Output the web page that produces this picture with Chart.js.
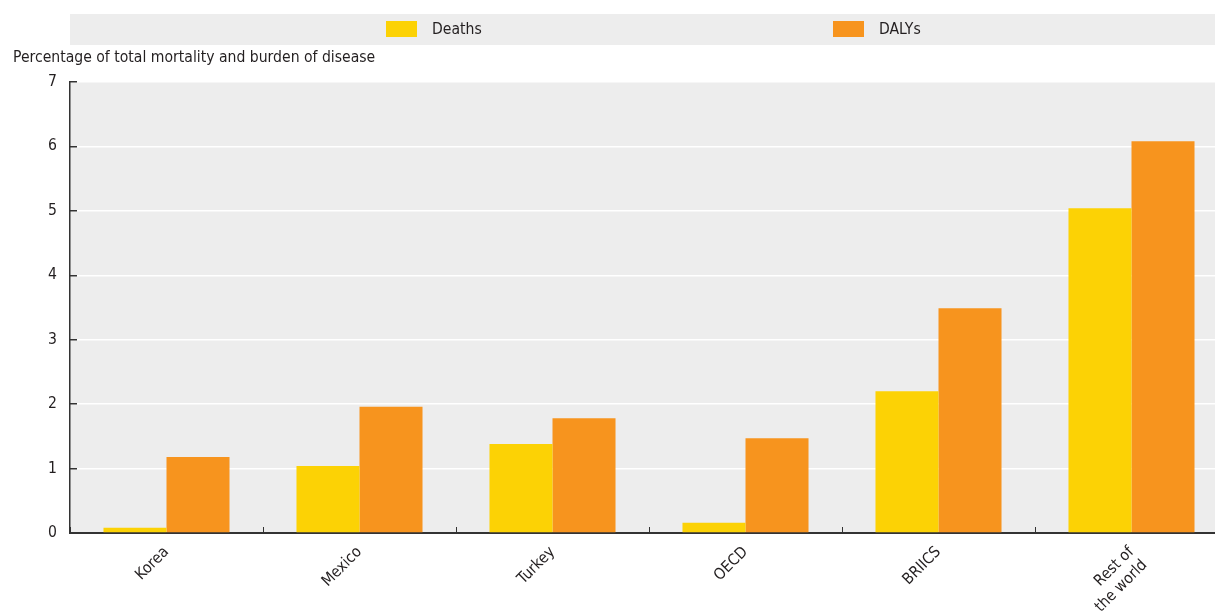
<!DOCTYPE html>
<html>
<head>
<meta charset="utf-8">
<script src="https://cdn.jsdelivr.net/npm/chart.js@4"></script>
<style>
  html, body { margin: 0; padding: 0; background: #fff; overflow: hidden; width: 1215px; height: 612px; }
  #wrap { width: 1228px; height: 612px; }
</style>
</head>
<body>
<div id="wrap"><canvas id="c" width="1228" height="612"></canvas></div>
<script>
// Share of total deaths and DALYs, by country / region group
const categories = ['Korea', 'Mexico', 'Turkey', 'OECD', 'BRIICS', ['Rest of', 'the world']];
const deaths = [0.08, 1.04, 1.38, 0.16, 2.20, 5.04];
const dalys = [1.18, 1.96, 1.78, 1.47, 3.49, 6.08];
const yTicks = [0, 1, 2, 3, 4, 5, 6, 7];
const seriesNames = ['Deaths', 'DALYs'];
const seriesColors = ['#FCD205', '#F7941E'];
const yTitle = 'Percentage of total mortality and burden of disease';

const FONT = "'Liberation Sans Narrow', 'Arial Narrow', 'DejaVu Sans Condensed', sans-serif";
const FS = 15.6;
const TEXT = '#231f20';
const PANEL = '#EDEDED';
const AXIS = '#333333';

// Grey panel behind the plot area
const panelPlugin = {
  id: 'panel',
  beforeDraw(chart) {
    const { ctx, chartArea: a } = chart;
    ctx.save();
    ctx.fillStyle = PANEL;
    ctx.fillRect(a.left, a.top, a.right - a.left, a.bottom - a.top);
    ctx.restore();
  }
};

// Legend band across the top and the axis caption under it
const headerPlugin = {
  id: 'header',
  afterDraw(chart) {
    const { ctx, chartArea: a } = chart;
    ctx.save();
    ctx.fillStyle = PANEL;
    ctx.fillRect(a.left, 14, chart.width - a.left, 31);
    const itemX = [386, 833];
    ctx.font = FS + 'px ' + FONT;
    ctx.textBaseline = 'middle';
    ctx.textAlign = 'left';
    chart.data.datasets.forEach((ds, i) => {
      ctx.fillStyle = ds.backgroundColor;
      ctx.fillRect(itemX[i], 21, 31, 16);
      ctx.fillStyle = TEXT;
      ctx.fillText(ds.label, itemX[i] + 46, 30);
    });
    ctx.fillStyle = TEXT;
    ctx.fillText(yTitle, 13, 58);
    ctx.restore();
  }
};

new Chart(document.getElementById('c'), {
  type: 'bar',
  data: {
    labels: categories,
    datasets: [
      { label: seriesNames[0], data: deaths, backgroundColor: seriesColors[0] },
      { label: seriesNames[1], data: dalys, backgroundColor: seriesColors[1] }
    ]
  },
  options: {
    responsive: false,
    animation: false,
    devicePixelRatio: 1,
    layout: { padding: { top: 82, left: 0, right: 0, bottom: 0 } },
    datasets: { bar: { barPercentage: 1, categoryPercentage: 0.653, borderWidth: 0 } },
    plugins: { legend: { display: false }, tooltip: { enabled: false }, title: { display: false } },
    scales: {
      x: {
        grid: { display: true, drawOnChartArea: false, offset: true, tickLength: -6, tickColor: AXIS, lineWidth: 1 },
        border: { display: true, color: AXIS, width: 2 },
        ticks: { minRotation: 45, maxRotation: 45, padding: 16, color: TEXT, font: { family: FONT, size: FS } },
        afterFit(s) { s.height = 79; }
      },
      y: {
        min: 0,
        max: 7,
        afterBuildTicks(s) { s.ticks = yTicks.map(v => ({ value: v })); },
        grid: { color: '#ffffff', lineWidth: 1.5, tickColor: AXIS, tickLength: -7 },
        border: { display: true, color: AXIS, width: 1.5 },
        ticks: { padding: 20, color: TEXT, font: { family: FONT, size: FS } },
        afterFit(s) { s.width = 70; }
      }
    }
  },
  plugins: [panelPlugin, headerPlugin]
});
</script>
</body>
</html>
